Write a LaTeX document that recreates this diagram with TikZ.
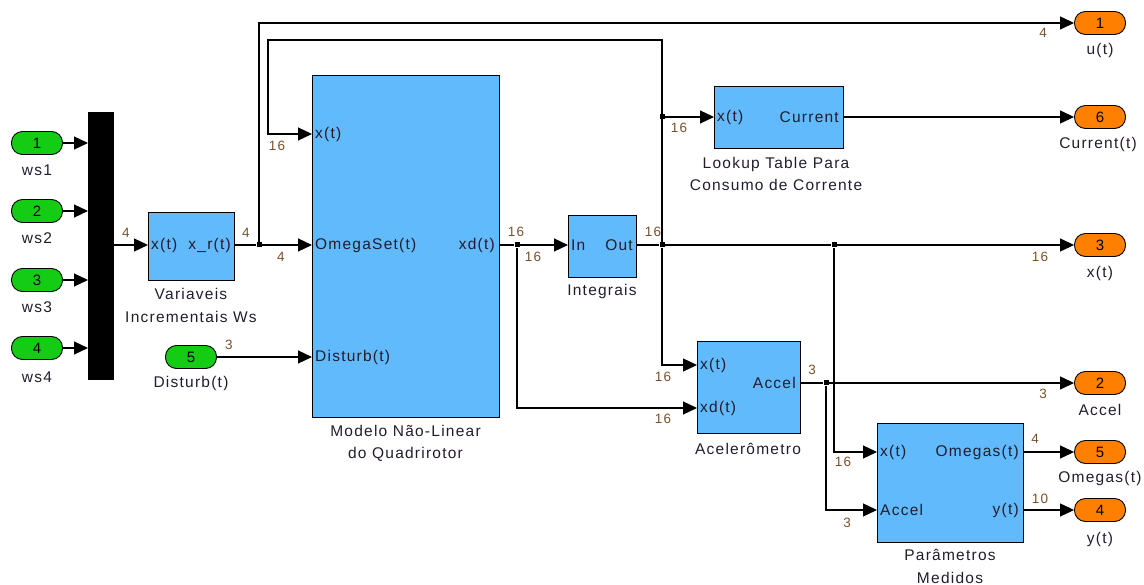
\documentclass[tikz,border=0pt]{standalone}
\usepackage{fontspec}
\setmainfont{Liberation Sans}[LetterSpace=8]
\usetikzlibrary{arrows.meta,calc}
\definecolor{blockblue}{RGB}{96,186,252}
\definecolor{ingreen}{RGB}{20,204,20}
\definecolor{outorange}{RGB}{255,128,0}
\definecolor{txt}{RGB}{36,28,44}
\definecolor{dimtxt}{RGB}{120,80,40}
\begin{document}
\begin{tikzpicture}[x=1pt,y=-1pt,
  blk/.style={draw=black, fill=blockblue, line width=1pt, inner sep=0pt, anchor=north west},
  inport/.style={draw=black, fill=ingreen, line width=0.9pt, rounded corners=11pt,
    minimum width=51pt, minimum height=23pt, inner sep=0pt, font=\fontsize{15}{17}\selectfont},
  outport/.style={inport, fill=outorange},
  sig/.style={draw=black, line width=1.2pt, -{Triangle[length=14pt,width=13pt]}},
  wire/.style={draw=black, line width=1.2pt},
  jdot/.style={rectangle, fill=black, inner sep=0pt, minimum size=5pt},
  plbl/.style={inner sep=0pt, text=txt, font=\fontsize{15.5}{17}\selectfont},
  bname/.style={inner sep=0pt, text=txt, align=center, font=\fontsize{15.5}{22.5}\selectfont},
  wlbl/.style={inner sep=0pt, text=dimtxt, font=\fontsize{13.5}{15}\selectfont}]
\useasboundingbox (0,0) rectangle (1144,585);

% ---------- inputs and mux ----------
\node[inport] (ws1) at (37,143) {1};
\node[inport] (ws2) at (37,211) {2};
\node[inport] (ws3) at (37,280) {3};
\node[inport] (ws4) at (37,348) {4};
\node[bname] (ws1n) at (37,170) {ws1};
\node[bname] (ws2n) at (37,238) {ws2};
\node[bname] (ws3n) at (37,307) {ws3};
\node[bname] (ws4n) at (37,377) {ws4};
\node[fill=black, inner sep=0pt, minimum width=26pt, minimum height=268pt, anchor=north west] (mux) at (88,112) {};

\node[inport] (dist) at (191,357) {5};
\node[bname] (distn) at (191,383) {Disturb(t)};

% ---------- blocks ----------
\node[blk, minimum width=86pt, minimum height=68pt] (var) at (148,212) {};
\node[plbl, anchor=west] (varx) at (151,245) {x(t)};
\node[plbl, anchor=east] (varxr) at (231,245) {x\_r(t)};
\node[bname] (varn) at (191,305.5) {Variaveis\\Incrementais Ws};

\node[blk, minimum width=187pt, minimum height=342pt] (mdl) at (312,75) {};
\node[plbl, anchor=west] (mdlx) at (315,134) {x(t)};
\node[plbl, anchor=west] (mdlw) at (315,245) {OmegaSet(t)};
\node[plbl, anchor=west] (mdld) at (315,357) {Disturb(t)};
\node[plbl, anchor=east] (mdlxd) at (495,245) {xd(t)};
\node[bname] (mdln) at (405.5,443.5) {Modelo Não-Linear\\do Quadrirotor};

\node[blk, minimum width=68pt, minimum height=62pt] (int) at (568,215) {};
\node[plbl, anchor=west] (intin) at (571,245) {In};
\node[plbl, anchor=east] (intout) at (633,245) {Out};
\node[bname] (intn) at (602,291) {Integrais};

\node[blk, minimum width=129pt, minimum height=62pt] (lut) at (714,86) {};
\node[plbl, anchor=west] (lutx) at (717,117) {x(t)};
\node[plbl, anchor=east] (lutc) at (839,117) {Current};
\node[bname] (lutn) at (776,174) {Lookup Table Para\\Consumo de Corrente};

\node[blk, minimum width=103pt, minimum height=92pt] (acc) at (697,341) {};
\node[plbl, anchor=west] (accx) at (700,365) {x(t)};
\node[plbl, anchor=west] (accxd) at (700,408) {xd(t)};
\node[plbl, anchor=east] (acca) at (796,383) {Accel};
\node[bname] (accn) at (748,449) {Acelerômetro};

\node[blk, minimum width=146pt, minimum height=119pt] (par) at (877,423) {};
\node[plbl, anchor=west] (parx) at (880,452) {x(t)};
\node[plbl, anchor=west] (para) at (880,510) {Accel};
\node[plbl, anchor=east] (paro) at (1019,452) {Omegas(t)};
\node[plbl, anchor=east] (pary) at (1019,510) {y(t)};
\node[bname] (parn) at (950,566.5) {Parâmetros\\Medidos};

% ---------- outputs ----------
\node[outport] (o1) at (1100,23) {1};
\node[outport] (o6) at (1100,117) {6};
\node[outport] (o3) at (1100,245) {3};
\node[outport] (o2) at (1100,383) {2};
\node[outport] (o5) at (1100,452) {5};
\node[outport] (o4) at (1100,510) {4};
\node[bname] (o1n) at (1100,50) {u(t)};
\node[bname] (o6n) at (1098,144) {Current(t)};
\node[bname] (o3n) at (1100,273) {x(t)};
\node[bname] (o2n) at (1100,410) {Accel};
\node[bname] (o5n) at (1100,478) {Omegas(t)};
\node[bname] (o4n) at (1100,539) {y(t)};

% ---------- branch points ----------
\node[jdot] (j1) at (259,245) {};
\node[jdot] (j2) at (662,117) {};
\node[jdot] (j3) at (662,245) {};
\node[jdot] (j4) at (834,245) {};
\node[jdot] (j5) at (517,245) {};
\node[jdot] (j6) at (826,383) {};
\coordinate (loopr) at (662,40);
\coordinate (loopl) at (268,40);
\coordinate (topl) at (259,23);

% ---------- connectors ----------
\foreach \w in {ws1,ws2,ws3,ws4} \draw[sig] (\w.east) -- (\w.east -| mux.west);
\draw[sig] (mux.east |- varx) -- (var.west |- varx);
\draw[wire] (var.east |- j1) -- (j1);
\draw[sig] (j1) -- (mdl.west |- mdlw);
\draw[sig] (j1) -- (topl) -- (topl -| o1.west);
\draw[sig] (dist.east) -- (mdl.west |- dist);

\draw[wire] (mdl.east |- j5) -- (j5);
\draw[sig] (j5) -- (int.west |- j5);
\draw[sig] (j5) |- (acc.west |- accxd);

\draw[wire] (int.east |- j3) -- (j3) -- (j4);
\draw[sig] (j4) -- (o3.west);
\draw[sig] (j3) -- (loopr) -- (loopl) |- (mdl.west |- mdlx);
\draw[sig] (j2) -- (lut.west |- j2);
\draw[sig] (j3) |- (acc.west |- accx);
\draw[sig] (lut.east |- o6) -- (o6.west);

\draw[wire] (acc.east |- j6) -- (j6);
\draw[sig] (j6) -- (o2.west);
\draw[sig] (j6) |- (par.west |- para);
\draw[sig] (j4) |- (par.west |- parx);
\draw[sig] (par.east |- o5) -- (o5.west);
\draw[sig] (par.east |- o4) -- (o4.west);

% ---------- signal widths ----------
\node[wlbl] (d1) at (126,233) {4};
\node[wlbl] (d2) at (246,233) {4};
\node[wlbl] (d3) at (281,257) {4};
\node[wlbl] (d4) at (1043,33) {4};
\node[wlbl] (d5) at (229,345) {3};
\node[wlbl] (d6) at (277,146) {16};
\node[wlbl] (d7) at (679,128) {16};
\node[wlbl] (d8) at (516,232) {16};
\node[wlbl] (d9) at (533,257) {16};
\node[wlbl] (d10) at (653,232) {16};
\node[wlbl] (d11) at (1040,257) {16};
\node[wlbl] (d12) at (663,377) {16};
\node[wlbl] (d13) at (663,419) {16};
\node[wlbl] (d14) at (812,370) {3};
\node[wlbl] (d15) at (1043,394) {3};
\node[wlbl] (d16) at (843,462) {16};
\node[wlbl] (d17) at (847,523) {3};
\node[wlbl] (d18) at (1035,439) {4};
\node[wlbl] (d19) at (1040,499) {10};
\end{tikzpicture}
\end{document}
